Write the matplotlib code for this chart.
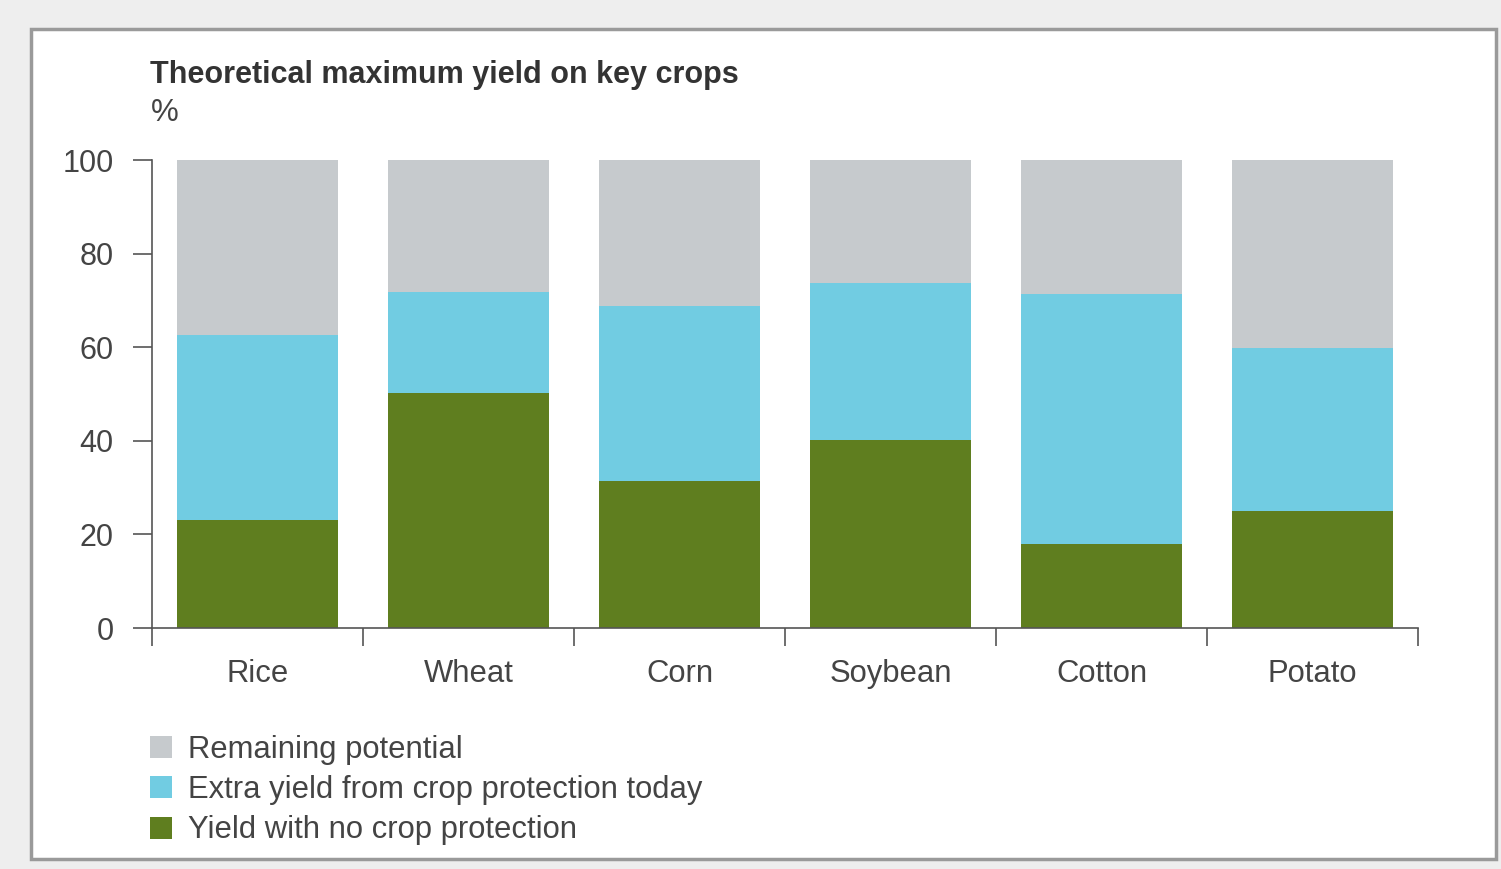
import numpy as np
import matplotlib
matplotlib.use("Agg")
import matplotlib.pyplot as plt
from matplotlib.patches import Rectangle

plt.rcParams['font.family'] = ['Liberation Sans', 'DejaVu Sans']

# data (% of theoretical maximum yield)
crops = ['Rice', 'Wheat', 'Corn', 'Soybean', 'Cotton', 'Potato']
no_protection = [23.1, 50.2, 31.4, 40.2, 17.9, 25.0]
extra_yield = [39.5, 21.6, 37.4, 33.5, 53.5, 34.8]
remaining = [100 - a - b for a, b in zip(no_protection, extra_yield)]

labels = ['Remaining potential', 'Extra yield from crop protection today',
          'Yield with no crop protection']

c_grey = '#c6cacd'
c_blue = '#71cce2'
c_green = '#5f7e1f'
txt = '#444444'
axcol = '#555555'

W, H = 1501, 869
fig = plt.figure(figsize=(W / 100, H / 100), dpi=100)
fig.patch.set_facecolor('#eeeeee')

# card behind the chart
card = Rectangle((31 / W, 1 - 859 / H), (1496 - 31) / W, (859 - 29) / H,
                 transform=fig.transFigure, facecolor='white',
                 edgecolor='#9a9a9a', linewidth=2.5, zorder=-10)
fig.patches.append(card)

ax = fig.add_axes([152 / W, 1 - 628 / H, (1418 - 152) / W, (628 - 160) / H])
ax.set_facecolor('none')
ax.set_zorder(5)

x = np.arange(len(crops))
bw = 0.765
ax.bar(x, no_protection, bw, color=c_green, label=labels[2])
ax.bar(x, extra_yield, bw, bottom=no_protection, color=c_blue, label=labels[1])
bottom2 = [a + b for a, b in zip(no_protection, extra_yield)]
ax.bar(x, remaining, bw, bottom=bottom2, color=c_grey, label=labels[0])

ax.set_xlim(-0.5, len(crops) - 0.5)
ax.set_ylim(0, 100)

for s in ['top', 'right']:
    ax.spines[s].set_visible(False)
for s in ['left', 'bottom']:
    ax.spines[s].set_color(axcol)
    ax.spines[s].set_linewidth(1.2)

ax.set_yticks([0, 20, 40, 60, 80, 100])
ax.tick_params(axis='y', length=13.5, width=1.2, color=axcol, labelsize=22,
               labelcolor=txt, pad=14)

ax.set_xticks(x)
ax.set_xticklabels(crops)
ax.tick_params(axis='x', which='major', length=0, labelsize=22.3,
               labelcolor=txt, pad=22)
ax.set_xticks(np.arange(-0.5, len(crops)), minor=True)
ax.tick_params(axis='x', which='minor', length=13, width=1.2, color=axcol,
               direction='out')

fig.text(150 / W, 1 - 83 / H, 'Theoretical maximum yield on key crops',
         fontsize=22, fontweight='bold', color='#333333', ha='left',
         va='baseline')
fig.text(151 / W, 1 - 121 / H, '%', fontsize=22.5, color=txt, ha='left',
         va='baseline')

h, l = ax.get_legend_handles_labels()
leg = fig.legend(h[::-1], l[::-1], loc='upper left',
                 bbox_to_anchor=(150 / W, 1 - 735 / H), frameon=False,
                 fontsize=22.3, handlelength=0.72, handleheight=0.72,
                 handletextpad=0.52, labelspacing=0.33, borderpad=0,
                 borderaxespad=0)
for t in leg.get_texts():
    t.set_color(txt)

fig.savefig('out.png', dpi=100, facecolor=fig.get_facecolor())
